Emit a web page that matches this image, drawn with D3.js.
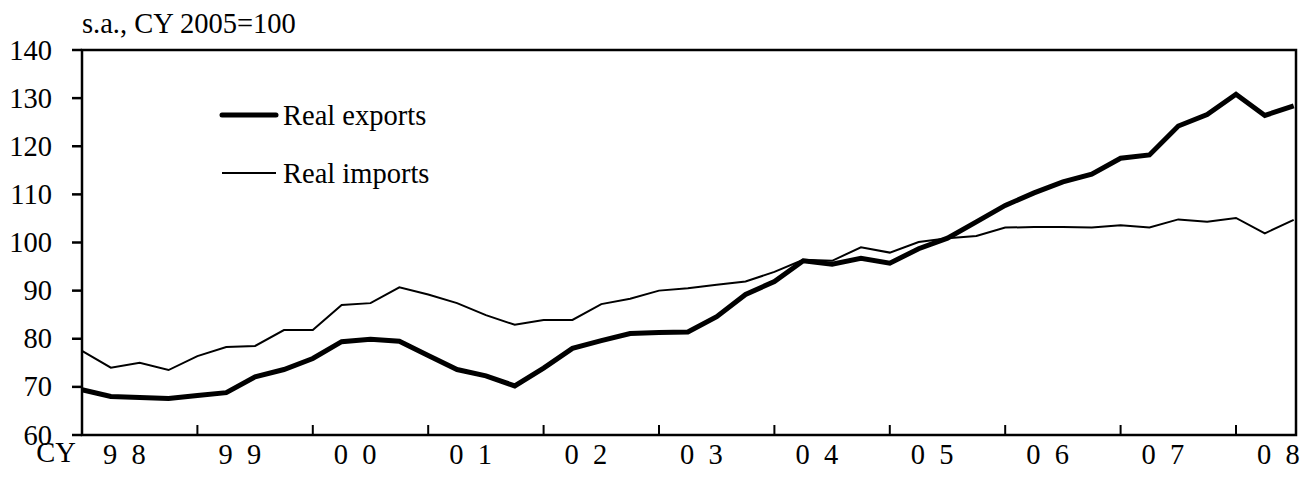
<!DOCTYPE html>
<html>
<head>
<meta charset="utf-8">
<script src="https://cdn.jsdelivr.net/npm/d3@7"></script>
<style>
  html, body { margin: 0; padding: 0; background: #fff; }
  svg { display: block; }
  text { font-family: "Liberation Serif", "Times New Roman", serif; fill: #000; }
</style>
</head>
<body>
<svg id="chart" width="1306" height="489"></svg>
<script>
// ---- data (quarterly, 1998Q1 .. 2008Q3) ----
const startYear = 1998;
const realExports = [69.4, 68.0, 67.8, 67.6, 68.2, 68.8, 72.1, 73.6, 75.9, 79.4, 79.9, 79.5,
  76.5, 73.6, 72.3, 70.2, 73.9, 78.0, 79.6, 81.1, 81.3, 81.4, 84.6, 89.2,
  91.9, 96.2, 95.5, 96.7, 95.7, 98.7, 100.9, 104.3, 107.7, 110.3, 112.6, 114.2,
  117.5, 118.2, 124.2, 126.6, 130.8, 126.4, 128.4];
const realImports = [77.5, 74.0, 75.0, 73.5, 76.4, 78.3, 78.5, 81.8, 81.8, 87.0, 87.4, 90.7,
  89.2, 87.4, 84.9, 82.9, 83.9, 83.9, 87.2, 88.3, 90.0, 90.5, 91.2, 91.9,
  93.9, 96.4, 96.2, 99.0, 97.9, 100.1, 100.9, 101.35, 103.1, 103.2, 103.2, 103.1,
  103.6, 103.1, 104.8, 104.3, 105.1, 101.9, 104.7];
const yearLabels = ["9 8", "9 9", "0 0", "0 1", "0 2", "0 3", "0 4", "0 5", "0 6", "0 7", "0 8"];
const yTicks = [60, 70, 80, 90, 100, 110, 120, 130, 140];
const seriesNames = ["Real exports", "Real imports"];
const unitLabel = "s.a., CY 2005=100";
const axisPrefix = "CY";

// ---- layout ----
const L = 82, R = 1296, T = 50, B = 435;
const FS = 28.5;

const svg = d3.select("#chart");
const x = d3.scaleLinear().domain([1998, 2008.52]).range([L, R]);
const y = d3.scaleLinear().domain([60, 140]).range([B, T]);

function stext(px, py, str, anchor) {
  return svg.append("text").attr("x", px).attr("y", py)
    .attr("text-anchor", anchor || "start")
    .style("font-size", FS + "px")
    .style("white-space", "pre")
    .text(str);
}

// y axis ticks & labels
yTicks.forEach(v => {
  svg.append("line").attr("x1", L - 10).attr("x2", L).attr("y1", y(v)).attr("y2", y(v))
    .attr("stroke", "#000").attr("stroke-width", 2.5);
  stext(L - 30, y(v) + 9.5, String(v), "end");
});

// x ticks (inward) at each year boundary
const years = yearLabels.map((d, i) => startYear + i);
years.slice(1).forEach(yr => {
  svg.append("line").attr("x1", x(yr)).attr("x2", x(yr)).attr("y1", B).attr("y2", B - 10)
    .attr("stroke", "#000").attr("stroke-width", 2);
});
yearLabels.forEach((lab, i) => {
  stext(x(years[i]) + 21, 464, lab.replace(" ", "  "), "start");
});
stext(56, 462, axisPrefix, "middle");

// unit label
stext(L, 33, unitLabel, "start");

// lines
const line = d3.line()
  .x((d, i) => x(startYear + i / 4))
  .y(d => y(d));

svg.append("path").datum(realImports).attr("d", line)
  .attr("fill", "none").attr("stroke", "#000").attr("stroke-width", 2).attr("stroke-linejoin", "miter");
svg.append("path").datum(realExports).attr("d", line)
  .attr("fill", "none").attr("stroke", "#000").attr("stroke-width", 5).attr("stroke-linejoin", "miter");

// frame
svg.append("rect").attr("x", L).attr("y", T).attr("width", R - L).attr("height", B - T)
  .attr("fill", "none").attr("stroke", "#000").attr("stroke-width", 2.5);

// legend
const legY = [115, 173];
const legW = [5, 2];
seriesNames.forEach((n, i) => {
  svg.append("line").attr("x1", 222).attr("x2", 276).attr("y1", legY[i]).attr("y2", legY[i])
    .attr("stroke", "#000").attr("stroke-width", legW[i]).attr("stroke-linecap", i === 0 ? "round" : "butt");
  stext(283, legY[i] + 10, n, "start");
});
</script>
</body>
</html>
